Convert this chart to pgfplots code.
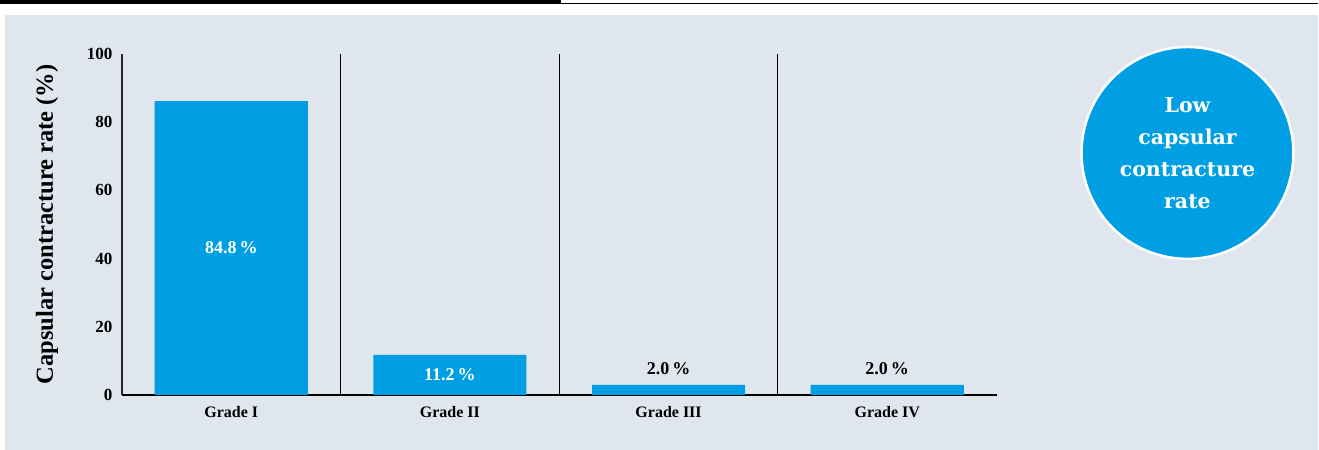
\documentclass[border=0pt]{standalone}
\usepackage{pgfplots}
\pgfplotsset{compat=1.18}
\usepackage{fontspec}
\setmainfont{Liberation Serif}
\newfontfamily\circfont{DejaVu Serif}
\definecolor{bg}{HTML}{DFE6ED}
\definecolor{barblue}{HTML}{009FE3}
\begin{document}
\begin{tikzpicture}
\fill[bg] (5pt,0pt) rectangle (1319pt,435pt);
\fill[black] (0pt,445.5pt) rectangle (561pt,450pt);
\draw[line width=1.2pt] (561pt,446.6pt) -- (1319pt,446.6pt);
\begin{axis}[
  at={(122pt,55pt)}, anchor=south west,
  scale only axis, width=875pt, height=341pt,
  xmin=-0.5, xmax=3.5, ymin=0, ymax=100,
  ytick={0,20,40,60,80,100},
  xtick={0,1,2,3}, xticklabels={Grade I,Grade II,Grade III,Grade IV},
  minor xtick={0.5,1.5,2.5}, xminorgrids,
  minor grid style={black, line width=0.9pt},
  axis x line*=bottom, axis y line*=left,
  x axis line style={line width=1.8pt, black, -},
  y axis line style={line width=1.2pt, black!85, -},
  major tick length=0pt, minor tick length=0pt,
  /pgf/number format/assume math mode=true,
  yticklabel style={font=\bfseries\fontsize{17}{20}\selectfont, xshift=-6pt},
  xticklabel style={font=\bfseries\fontsize{16}{20}\selectfont, yshift=-8pt},
  ylabel={Capsular contracture rate (\%)},
  every axis y label/.style={at={(axis description cs:0,0.5)}, xshift=-75pt, rotate=90, anchor=center, font=\bfseries\fontsize{24.5}{26}\selectfont},
  clip=false,
]
\addplot[ybar, bar width=0.7, fill=barblue, draw=none] coordinates {(0,86.2) (1,11.7) (2,2.9) (3,2.9)};
\addplot[draw=none, mark=none, nodes near coords, point meta=explicit symbolic,
  nodes near coords style={anchor=center, text=white, font=\bfseries\fontsize{18}{20}\selectfont}]
  coordinates {(0,43.1) [84.8\,\%] (1,5.85) [11.2\,\%]};
\addplot[draw=none, mark=none, nodes near coords, point meta=explicit symbolic,
  nodes near coords style={anchor=center, text=black, font=\bfseries\fontsize{18}{20}\selectfont}]
  coordinates {(2,7.6) [2.0\,\%] (3,7.6) [2.0\,\%]};
\end{axis}
\node[circle, fill=barblue, draw=white, line width=2.5pt, minimum size=212pt, inner sep=0pt, align=center, text=white, font=\circfont\bfseries\fontsize{20.5}{32}\selectfont] at (1188pt,297pt) {Low\\capsular\\contracture\\rate};
\end{tikzpicture}
\end{document}
